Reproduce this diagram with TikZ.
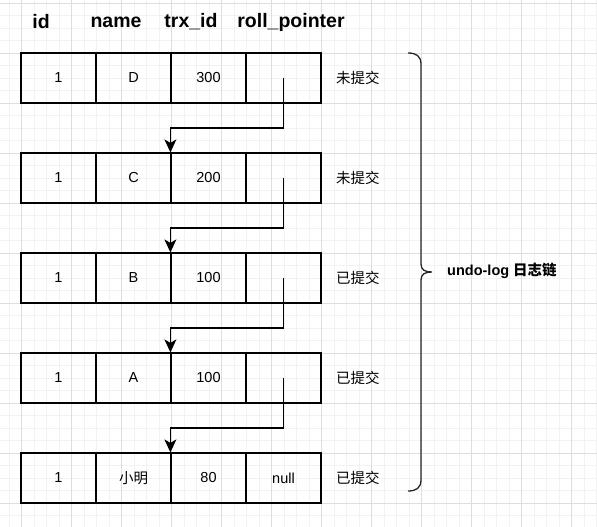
\documentclass[tikz,border=0pt]{standalone}
\usepackage{fontspec}
\setmainfont{Liberation Sans}
\newfontfamily\cjk{Noto Sans CJK SC}
\usetikzlibrary{arrows.meta}
\tikzset{
  cell/.style={draw=black, line width=1.2pt, minimum width=75pt, minimum height=50pt, inner sep=0pt, font=\fontsize{14.5}{16}\selectfont},
  head/.style={font=\fontsize{19.5}{22}\selectfont\bfseries, inner sep=0pt},
  lbl/.style={font=\fontsize{14.5}{16}\selectfont\cjk, inner sep=0pt, anchor=west},
  ptr/.style={line width=1.2pt, -{Stealth[length=13pt,width=12pt,inset=3.5pt]}},
  minorgrid/.style={draw=black!5, line width=0.6pt},
  majorgrid/.style={draw=black!13, line width=0.7pt},
}
\begin{document}
\begin{tikzpicture}[x=1pt,y=-1pt]
\useasboundingbox (0,0) rectangle (597,527);
\fill[white] (0,0) rectangle (597,527);
% grid
\foreach \i in {0,...,47} { \draw[minorgrid] ({9.2+12.5*\i},0) -- ({9.2+12.5*\i},527); }
\foreach \i in {0,...,42} { \draw[minorgrid] (0,{3+12.5*\i}) -- (597,{3+12.5*\i}); }
\foreach \i in {0,...,11} { \draw[majorgrid] ({21.7+50*\i},0) -- ({21.7+50*\i},527); }
\foreach \i in {0,...,10} { \draw[majorgrid] (0,{3+50*\i}) -- (597,{3+50*\i}); }
% headers
\node[head] (hid) at (41,22) {id};
\node[head] (hname) at (116,22) {name};
\node[head] (htrx) at (191,22) {trx\_id};
\node[head] (hrp) at (291,22) {roll\_pointer};
% rows
\foreach \r/\nm/\t/\p/\s in {1/D/300//未提交, 2/C/200//未提交, 3/B/100//已提交, 4/A/100//已提交, 5/{\cjk 小明}/80/null/已提交} {
  \pgfmathsetmacro{\yy}{78+100*(\r-1)}
  \node[cell] (a\r) at (58.5,\yy) {1};
  \node[cell] (b\r) at (133.5,\yy) {\nm};
  \node[cell] (c\r) at (208.5,\yy) {\t};
  \node[cell] (d\r) at (283.5,\yy) {\p};
  \node[lbl] (s\r) at (336,\yy) {\s};
}
% pointers
\foreach \r/\n in {1/2,2/3,3/4,4/5} {
  \draw[ptr] (d\r.center) -- ++(0,50) -| (c\n.north west);
}
% brace
\coordinate (bt) at (408,53);
\coordinate (bb) at (408,491);
\coordinate (btip) at (432,272);
\draw[line width=1.3pt, black!85] (bt) .. controls (416,53) and (421,56) .. (421,64)
  -- (421,264) .. controls (421,270) and (425,272) .. (btip)
  .. controls (425,272) and (421,274) .. (421,280)
  -- (421,480) .. controls (421,488) and (416,491) .. (bb);
\node[font=\fontsize{14.5}{16}\selectfont\bfseries, inner sep=0pt, anchor=west] (ulog) at (447,271) {undo-log {\cjk\bfseries 日志链}};
\end{tikzpicture}
\end{document}
